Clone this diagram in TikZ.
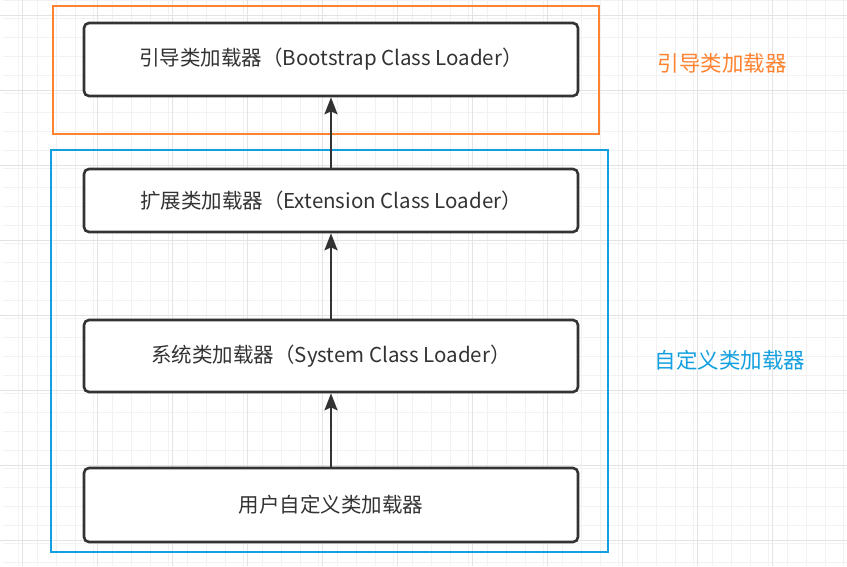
\documentclass[tikz,border=0pt]{standalone}
\usepackage{fontspec}
\setmainfont{Noto Sans CJK SC}
\usepackage{tikz}
\usetikzlibrary{arrows.meta,positioning}

\definecolor{boxline}{HTML}{333333}
\definecolor{bootorange}{HTML}{FF8330}
\definecolor{userblue}{HTML}{13A0E0}
\definecolor{gridminor}{HTML}{F2F2F2}
\definecolor{gridmajor}{HTML}{E3E3E3}

\tikzset{
  loader/.style={draw=boxline, line width=2.6pt, rounded corners=5pt,
    fill=white, text=boxline, minimum width=494pt,
    font=\fontsize{20.5}{24}\selectfont},
  up/.style={-{Stealth[length=17pt,width=13pt,inset=3pt]}, line width=2.5pt, draw=boxline},
  frame/.style={line width=1.7pt},
  tag/.style={font=\fontsize{21.5}{24}\selectfont}
}

\begin{document}
\begin{tikzpicture}[%
    x=1pt, y=-1pt,
    node distance=150pt,
    on grid
    ]

    \useasboundingbox (0,0) rectangle (847,566);
    \fill[white] (0,0) rectangle (847,566);
    % grid
    \draw[gridminor, line width=0.8pt] (3.25,0) grid[step=18.75pt] (847,566);
    \foreach \gx in {22,97,...,847} \draw[gridmajor, line width=0.8pt] (\gx,0) -- (\gx,566);
    \foreach \gy in {15,90,...,566} \draw[gridmajor, line width=0.8pt] (0,\gy) -- (847,\gy);

    % frames
    \draw[frame, bootorange] (53,6) rectangle (599,134);
    \draw[frame, userblue] (51,150) rectangle (608,552);

    \node[loader, minimum height=74pt] (user) at (331,505) {用户自定义类加载器};
    \node[loader, minimum height=72pt] (sys) [above=149pt of user] {系统类加载器（System Class Loader）};
    \node[loader, minimum height=63pt] (ext) [above=155.5pt of sys] {扩展类加载器（Extension Class Loader）};
    \node[loader, minimum height=73pt] (boot) [above=141pt of ext] {引导类加载器（Bootstrap Class Loader）};

    \draw[up] (user) -- (sys);
    \draw[up] (sys) -- (ext);
    \draw[up] (ext) -- (boot);

    \node[tag, text=bootorange] (boottag) at (722,63) {引导类加载器};
    \node[tag, text=userblue] (usertag) at (730,360) {自定义类加载器};

    \end{tikzpicture}
\end{document}
